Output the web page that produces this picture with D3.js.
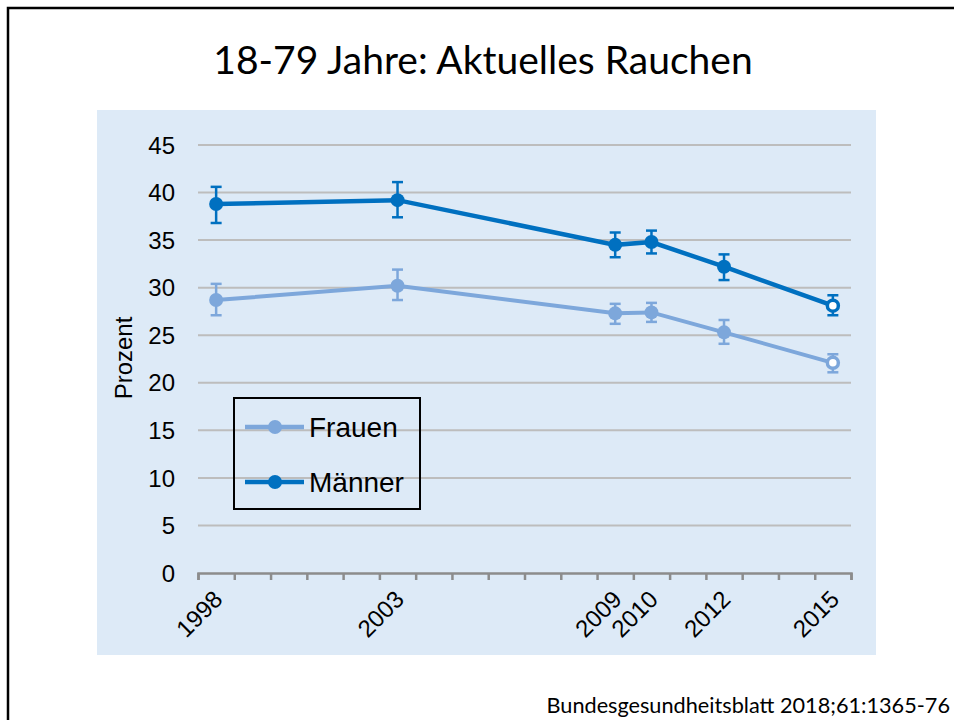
<!DOCTYPE html>
<html>
<head>
<meta charset="utf-8">
<title>18-79 Jahre: Aktuelles Rauchen</title>
<script src="https://cdn.jsdelivr.net/npm/d3@7/dist/d3.min.js"></script>
<style>
    body { margin: 0; background: #fff; }
    svg { display: block; }
</style>
</head>
<body>
<svg width="954" height="720"></svg>
<script>

var years = [1998, 2003, 2009, 2010, 2012, 2015];

var frauen     = [28.7, 30.2, 27.3, 27.4, 25.3, 22.1];
var frauenLow  = [27.1, 28.7, 26.2, 26.4, 24.1, 21.1];
var frauenHigh = [30.4, 31.9, 28.3, 28.4, 26.6, 23.0];

var maenner     = [38.8, 39.2, 34.5, 34.8, 32.2, 28.1];
var maennerLow  = [36.8, 37.4, 33.2, 33.6, 30.8, 27.1];
var maennerHigh = [40.6, 41.1, 35.8, 36.0, 33.5, 29.2];

// last survey wave drawn with open marker
var openMarker = [false, false, false, false, false, true];

var yTicks = [0, 5, 10, 15, 20, 25, 30, 35, 40, 45];
var seriesNames = ['Frauen', 'Männer'];
var colors = {Frauen: '#7DA7DB', 'Männer': '#0070C0'};

var svg = d3.select('svg');

// slide frame
svg.append('path')
    .attr('d', 'M8,720 V8 H954')
    .attr('fill', 'none')
    .attr('stroke', '#000')
    .attr('stroke-width', 2.5);

svg.append('text')
    .attr('x', 483)
    .attr('y', 74)
    .attr('text-anchor', 'middle')
    .style('font-family', 'Lato, "Open Sans", sans-serif')
    .style('font-size', '39px')
    .text('18-79 Jahre: Aktuelles Rauchen');

svg.append('text')
    .attr('x', 950)
    .attr('y', 713)
    .attr('text-anchor', 'end')
    .style('font-family', 'Lato, "Open Sans", sans-serif')
    .style('font-size', '21.7px')
    .text('Bundesgesundheitsblatt 2018;61:1365-76');

// chart area
svg.append('rect')
    .attr('x', 97).attr('y', 110)
    .attr('width', 779).attr('height', 545)
    .attr('fill', '#DDEAF7');

var x = d3.scaleLinear().domain([1997.5, 2015.5]).range([198, 851]);
var y = d3.scaleLinear().domain([0, 45]).range([573, 145]);

var axisFont = '"Liberation Sans", Arial, sans-serif';

// gridlines
svg.append('g')
    .selectAll('line')
    .data(yTicks.filter(function (d) { return d > 0; }))
    .enter().append('line')
    .attr('x1', x.range()[0]).attr('x2', x.range()[1])
    .attr('y1', function (d) { return y(d); })
    .attr('y2', function (d) { return y(d); })
    .attr('stroke', '#BDBDBD')
    .attr('stroke-width', 2);

// y axis labels
svg.append('g')
    .selectAll('text')
    .data(yTicks)
    .enter().append('text')
    .attr('x', 175)
    .attr('y', function (d) { return y(d); })
    .attr('dy', '0.36em')
    .attr('text-anchor', 'end')
    .style('font-family', axisFont)
    .style('font-size', '24px')
    .text(function (d) { return d; });

svg.append('text')
    .attr('transform', 'translate(132,358) rotate(-90)')
    .attr('text-anchor', 'middle')
    .style('font-family', axisFont)
    .style('font-size', '24px')
    .text('Prozent');

// x axis
var xAxis = d3.axisBottom(x)
    .tickValues(d3.range(1997.5, 2016, 1))
    .tickSize(7)
    .tickFormat('');

var gx = svg.append('g')
    .attr('transform', 'translate(0,' + y(0) + ')')
    .call(xAxis);
gx.select('.domain').attr('stroke', '#8C8C8C').attr('stroke-width', 2.5);
gx.selectAll('.tick line').attr('stroke', '#8C8C8C').attr('stroke-width', 2.5);

svg.append('g')
    .selectAll('text')
    .data(years)
    .enter().append('text')
    .attr('transform', function (d) {
        return 'translate(' + (x(d) - 4) + ',' + (y(0) + 16) + ') rotate(-45)';
    })
    .attr('text-anchor', 'end')
    .attr('dy', '0.7em')
    .style('font-family', axisFont)
    .style('font-size', '24px')
    .text(function (d) { return d; });

// series
var series = [
    {name: 'Frauen', values: frauen, low: frauenLow, high: frauenHigh, width: 4},
    {name: 'Männer', values: maenner, low: maennerLow, high: maennerHigh, width: 4.5}
];

var line = d3.line()
    .x(function (d) { return x(d.year); })
    .y(function (d) { return y(d.value); });

series.forEach(function (s) {
    var pts = years.map(function (yr, i) {
        return {year: yr, value: s.values[i], low: s.low[i], high: s.high[i], open: openMarker[i]};
    });
    var color = colors[s.name];
    var g = svg.append('g');

    g.append('path')
        .datum(pts)
        .attr('d', line)
        .attr('fill', 'none')
        .attr('stroke', color)
        .attr('stroke-width', s.width);

    var eb = g.selectAll('.err')
        .data(pts)
        .enter().append('g')
        .attr('stroke', color)
        .attr('stroke-width', 2.5);
    eb.append('line')
        .attr('x1', function (d) { return x(d.year); })
        .attr('x2', function (d) { return x(d.year); })
        .attr('y1', function (d) { return y(d.low); })
        .attr('y2', function (d) { return y(d.high); });
    eb.append('line')
        .attr('x1', function (d) { return x(d.year) - 5.5; })
        .attr('x2', function (d) { return x(d.year) + 5.5; })
        .attr('y1', function (d) { return y(d.low); })
        .attr('y2', function (d) { return y(d.low); });
    eb.append('line')
        .attr('x1', function (d) { return x(d.year) - 5.5; })
        .attr('x2', function (d) { return x(d.year) + 5.5; })
        .attr('y1', function (d) { return y(d.high); })
        .attr('y2', function (d) { return y(d.high); });

    g.selectAll('circle')
        .data(pts)
        .enter().append('circle')
        .attr('cx', function (d) { return x(d.year); })
        .attr('cy', function (d) { return y(d.value); })
        .attr('r', function (d) { return d.open ? 5.5 : 7; })
        .attr('fill', function (d) { return d.open ? '#fff' : color; })
        .attr('stroke', color)
        .attr('stroke-width', function (d) { return d.open ? 3.5 : 0; });
});

// legend
var legend = svg.append('g');
legend.append('rect')
    .attr('x', 234).attr('y', 398)
    .attr('width', 186).attr('height', 111)
    .attr('fill', 'none')
    .attr('stroke', '#000')
    .attr('stroke-width', 2);

var legendItem = legend.selectAll('.item')
    .data(seriesNames)
    .enter().append('g')
    .attr('transform', function (d, i) { return 'translate(0,' + (427 + i * 55) + ')'; });
legendItem.append('line')
    .attr('x1', 245).attr('x2', 304)
    .attr('stroke', function (d) { return colors[d]; })
    .attr('stroke-width', 4.5);
legendItem.append('circle')
    .attr('cx', 275).attr('r', 7)
    .attr('fill', function (d) { return colors[d]; });
legendItem.append('text')
    .attr('x', 309)
    .attr('dy', '0.36em')
    .style('font-family', axisFont)
    .style('font-size', '28px')
    .text(function (d) { return d; });

</script>
</body>
</html>
